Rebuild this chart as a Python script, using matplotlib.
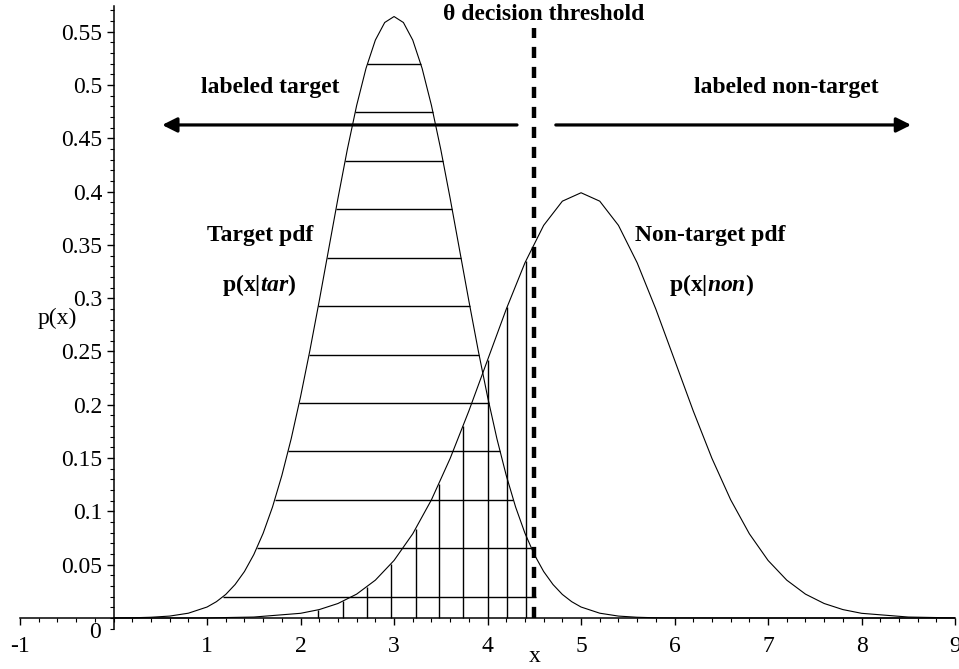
import matplotlib
matplotlib.use('Agg')
import matplotlib.pyplot as plt
from matplotlib.ticker import MultipleLocator

plt.rcParams['font.family'] = ['Liberation Serif', 'DejaVu Serif']
plt.rcParams['axes.unicode_minus'] = False
plt.rcParams['mathtext.fontset'] = 'custom'
plt.rcParams['mathtext.rm'] = 'Liberation Serif'
plt.rcParams['mathtext.bf'] = 'Liberation Serif:bold'
plt.rcParams['mathtext.it'] = 'Liberation Serif:italic'
plt.rcParams['mathtext.bfit'] = 'Liberation Serif:bold:italic'

# target pdf p(x|tar)
tar_x = [0.0, 0.2, 0.4, 0.6, 0.8, 1.0, 1.1, 1.2, 1.3, 1.4, 1.5, 1.6, 1.7, 1.8, 1.9,
         2.0, 2.1, 2.2, 2.3, 2.4, 2.5, 2.6, 2.7, 2.8, 2.9, 3.0, 3.1, 3.2, 3.3, 3.4,
         3.5, 3.6, 3.7, 3.8, 3.9, 4.0, 4.1, 4.2, 4.3, 4.4, 4.5, 4.6, 4.7, 4.8, 4.9,
         5.0, 5.2, 5.4, 5.6, 5.8, 6.0, 7.0, 9.0]
tar_y = [0.0001, 0.0002, 0.0007, 0.0018, 0.0045, 0.0103, 0.0153, 0.0221, 0.0314, 0.0436,
         0.0595, 0.0795, 0.1041, 0.1337, 0.1682, 0.2076, 0.2510, 0.2975, 0.3456, 0.3936,
         0.4394, 0.4808, 0.5156, 0.5421, 0.5586, 0.5642, 0.5586, 0.5421, 0.5156, 0.4808,
         0.4394, 0.3936, 0.3456, 0.2975, 0.2510, 0.2076, 0.1682, 0.1337, 0.1041, 0.0795,
         0.0595, 0.0436, 0.0314, 0.0221, 0.0153, 0.0103, 0.0045, 0.0018, 0.0007, 0.0002,
         0.0001, 0.0, 0.0]

# non-target pdf p(x|non)
non_x = [0.0, 0.5, 1.0, 1.5, 2.0, 2.2, 2.4, 2.6, 2.8, 3.0, 3.2, 3.4, 3.6, 3.8, 4.0,
         4.2, 4.4, 4.6, 4.8, 5.0, 5.2, 5.4, 5.6, 5.8, 6.0, 6.2, 6.4, 6.6, 6.8, 7.0,
         7.2, 7.4, 7.6, 7.8, 8.0, 8.5, 9.0]
non_y = [0.0, 0.0000, 0.0001, 0.0009, 0.0044, 0.0079, 0.0136, 0.0224, 0.0355, 0.0540,
         0.0790, 0.1109, 0.1497, 0.1942, 0.2420, 0.2897, 0.3332, 0.3683, 0.3910, 0.3989,
         0.3910, 0.3683, 0.3332, 0.2897, 0.2420, 0.1942, 0.1497, 0.1109, 0.0790, 0.0540,
         0.0355, 0.0224, 0.0136, 0.0079, 0.0044, 0.0009, 0.0001]

threshold = 4.5

# horizontal hatching inside the target pdf (left of threshold)
hatch_y = [0.020, 0.066, 0.111, 0.157, 0.202, 0.247, 0.293, 0.338, 0.384, 0.429, 0.475, 0.520]
hatch_left = [1.17, 1.535, 1.725, 1.869, 1.987, 2.091, 2.191, 2.284, 2.380, 2.477, 2.585, 2.714]
hatch_right = [4.52, 4.465, 4.275, 4.131, 4.013, 3.909, 3.809, 3.716, 3.620, 3.523, 3.415, 3.286]

# vertical hatching under the non-target pdf (left of threshold)
vhatch_x = [2.19, 2.45, 2.71, 2.97, 3.23, 3.48, 3.74, 4.00, 4.21, 4.41]
vhatch_top = [0.0077, 0.0155, 0.0290, 0.0508, 0.0833, 0.1257, 0.1804, 0.2420, 0.2921, 0.3352]

fig = plt.figure(figsize=(9.59, 6.69), dpi=100)
ax = fig.add_axes([0.0209, 0.0595, 0.975, 0.9314])

ax.plot(tar_x, tar_y, color='k', lw=0.8)
ax.plot(non_x, non_y, color='k', lw=0.8)
ax.hlines(hatch_y, hatch_left, hatch_right, color='k', lw=1.0)
ax.vlines(vhatch_x, 0, vhatch_top, color='k', lw=1.0)
ax.plot([threshold, threshold], [0, 0.553], color='k', lw=3.2, dashes=(2.5, 2.0))

ax.set_xlim(-1, 9)
ax.set_ylim(-0.0105, 0.574)
ax.spines['left'].set_position(('data', 0))
ax.spines['bottom'].set_position(('data', 0))
ax.spines['top'].set_visible(False)
ax.spines['right'].set_visible(False)
ax.spines['left'].set_linewidth(1.1)
ax.spines['bottom'].set_linewidth(1.1)

ax.set_xticks([-1, 1, 2, 3, 4, 5, 6, 7, 8, 9])
ax.xaxis.set_minor_locator(MultipleLocator(0.2))
ax.set_yticks([0.05, 0.1, 0.15, 0.2, 0.25, 0.3, 0.35, 0.4, 0.45, 0.5, 0.55])
ax.set_yticklabels(['0.05', '0.1', '0.15', '0.2', '0.25', '0.3', '0.35', '0.4', '0.45', '0.5', '0.55'])
ax.yaxis.set_minor_locator(MultipleLocator(0.01))
ax.tick_params(which='major', direction='out', length=5, width=1, labelsize=17, pad=3)
ax.tick_params(which='minor', direction='out', length=2.8, width=0.8)
ax.tick_params(axis='x', which='major', pad=8)

ax.text(-0.2, -0.014, '0', fontsize=17, ha='center', va='center', clip_on=False)
ax.text(-0.6, 0.281, 'p(x)', fontsize=17, ha='center', va='center')
ax.text(4.5, -0.036, 'x', fontsize=17, ha='center', va='center', clip_on=False)

ax.text(4.6, 0.566, 'θ decision threshold', fontsize=17, fontweight='bold', ha='center', va='center')
ax.text(1.68, 0.498, 'labeled target', fontsize=17, fontweight='bold', ha='center', va='center')
ax.text(7.2, 0.498, 'labeled non-target', fontsize=17, fontweight='bold', ha='center', va='center')
ax.text(1.57, 0.359, 'Target pdf', fontsize=17, fontweight='bold', ha='center', va='center')
ax.text(1.56, 0.312, r'$\mathbf{p(x|}\mathbfit{tar}\mathbf{)}$', fontsize=17, ha='center', va='center')
ax.text(6.38, 0.359, 'Non-target pdf', fontsize=17, fontweight='bold', ha='center', va='center')
ax.text(6.40, 0.312, r'$\mathbf{p(x|}\mathbfit{non}\mathbf{)}$', fontsize=17, ha='center', va='center')

arrow = dict(arrowstyle='-|>', color='k', lw=2.3, mutation_scale=22, shrinkA=0, shrinkB=0)
ax.annotate('', xy=(0.52, 0.4625), xytext=(4.315, 0.4625), arrowprops=arrow)
ax.annotate('', xy=(8.53, 0.4625), xytext=(4.73, 0.4625), arrowprops=arrow)

fig.savefig('out.png', dpi=100)
